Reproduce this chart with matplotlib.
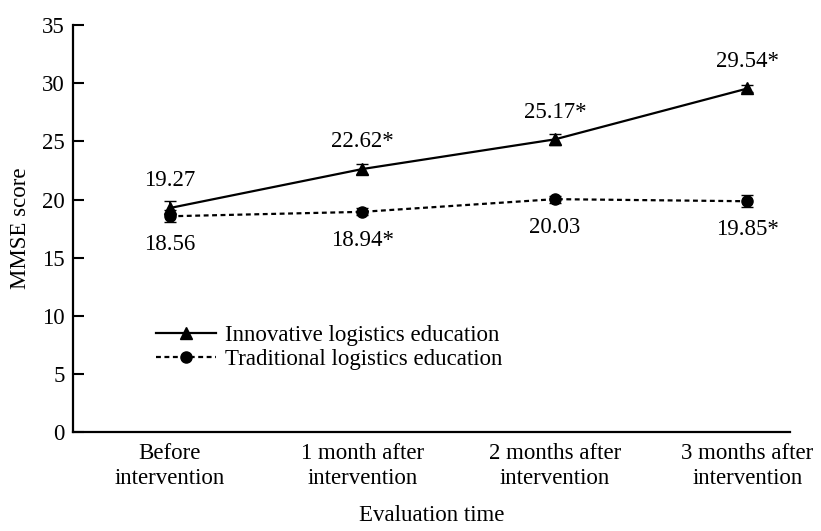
import matplotlib
matplotlib.use("Agg")
import matplotlib.pyplot as plt
from matplotlib.lines import Line2D

plt.rcParams['font.family'] = ['Liberation Serif', 'DejaVu Serif']

categories = ["Before\nintervention", "1 month after\nintervention",
              "2 months after\nintervention", "3 months after\nintervention"]
innovative = [19.27, 22.62, 25.17, 29.54]
innovative_err = [0.6, 0.4, 0.5, 0.3]
traditional = [18.56, 18.94, 20.03, 19.85]
traditional_err = [0.5, 0.3, 0.3, 0.5]
innovative_labels = ["19.27", "22.62*", "25.17*", "29.54*"]
traditional_labels = ["18.56", "18.94*", "20.03", "19.85*"]

FS = 16.5
DASH = (0, (2.2, 1.6))

fig = plt.figure(figsize=(8.21, 5.31), dpi=100)
ax = fig.add_axes([0.089, 0.186, 0.873, 0.767])

x = list(range(len(categories)))
ax.errorbar(x, innovative, yerr=innovative_err, color='black', lw=1.6,
            marker='^', markersize=8, capsize=4, elinewidth=1.4)
ax.errorbar(x, traditional, yerr=traditional_err, color='black', lw=1.6,
            ls=DASH, marker='o', markersize=8, capsize=4, elinewidth=1.4)

for xi, v, t in zip(x, innovative, innovative_labels):
    ax.annotate(t, (xi, v), xytext=(0, 12), textcoords='offset points',
                ha='center', va='bottom', fontsize=FS)
for xi, v, t in zip(x, traditional, traditional_labels):
    ax.annotate(t, (xi, v), xytext=(0, -13), textcoords='offset points',
                ha='center', va='top', fontsize=FS)

ax.set_xlim(-0.503, 3.22)
ax.set_ylim(0, 35)
ax.set_yticks(range(0, 36, 5))
ax.set_xticks(x)
ax.set_xticklabels(categories, fontsize=FS, linespacing=1.2)
ax.tick_params(axis='x', length=0, pad=8)
ax.tick_params(axis='y', direction='in', length=8, width=1.5, labelsize=FS, pad=6)
for s in ['top', 'right']:
    ax.spines[s].set_visible(False)
for s in ['left', 'bottom']:
    ax.spines[s].set_linewidth(1.6)

ax.set_ylabel('MMSE score', fontsize=FS, labelpad=8)
ax.set_xlabel('Evaluation time', fontsize=FS, labelpad=12)

handles = [
    Line2D([], [], color='black', lw=1.6, marker='^', markersize=8),
    Line2D([], [], color='black', lw=1.6, ls=DASH, marker='o', markersize=8),
]
ax.legend(handles, ['Innovative logistics education', 'Traditional logistics education'],
          loc='upper left', bbox_to_anchor=(0.103, 0.285), frameon=False,
          fontsize=FS, handlelength=2.6, handletextpad=0.4,
          labelspacing=0.1, borderaxespad=0)

fig.savefig('out.png', dpi=100)
